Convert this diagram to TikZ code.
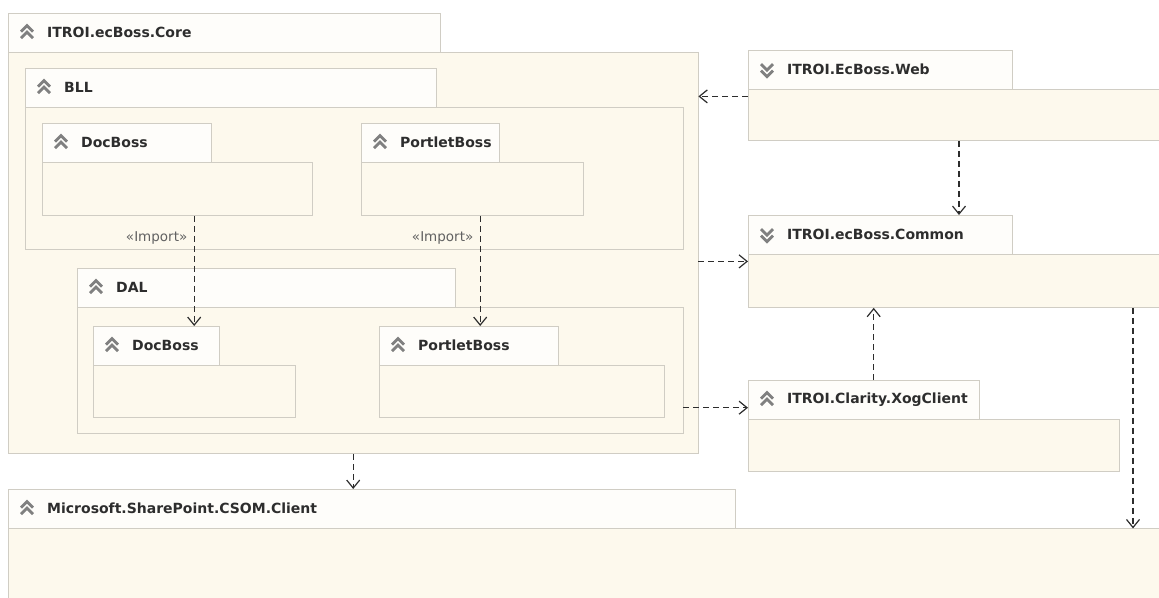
\documentclass[tikz,border=0pt]{standalone}
\usepackage{fontspec}
\setmainfont{DejaVu Sans}
\usetikzlibrary{arrows.meta}

\definecolor{edge}{RGB}{208,205,196}
\definecolor{tabfill}{RGB}{254,253,250}
\definecolor{bodyfill}{RGB}{253,249,237}
\definecolor{iconc}{RGB}{128,128,128}
\definecolor{ink}{RGB}{45,45,45}

\tikzset{
  pane/.style={draw=edge, fill=tabfill, anchor=north west, inner sep=0pt,
    minimum height=39pt, align=left, text=ink,
    font=\bfseries\fontsize{14}{16}\selectfont},
  body/.style={draw=edge, fill=bodyfill, anchor=north west, inner sep=0pt},
  dep/.style={draw=ink, line width=1.1pt, dash pattern=on 6pt off 4pt,
    -{Straight Barb[length=8pt,width=13pt,line width=1.2pt]}},
  imp/.style={left=3pt, text=ink!75, font=\fontsize{13.5}{15}\selectfont},
  pics/upicon/.style={code={
    \draw[iconc, line width=2.8pt] (-6,-1)--(0,-7)--(6,-1);
    \draw[iconc, line width=2.8pt] (-6,5.5)--(0,-0.5)--(6,5.5);}},
  pics/downicon/.style={code={
    \draw[iconc, line width=2.8pt] (-6,-5.5)--(0,0.5)--(6,-5.5);
    \draw[iconc, line width=2.8pt] (-6,1)--(0,7)--(6,1);}}
}

% name, x, y, tab width, body width, body height, label, icon
\newcommand{\pkg}[8]{%
  \node[pane, text width=#4pt] (#1T) at (#2,#3) {\hspace*{39pt}#7};
  \pic at ([xshift=19pt]#1T.west) {#8};
  \node[body, minimum width=#5pt, minimum height=#6pt] (#1) at (#1T.south west) {};
}

\begin{document}
\begin{tikzpicture}[x=1pt,y=-1pt]
  \useasboundingbox (0,0) rectangle (1159,597);
  \clip (0,0) rectangle (1159,597);

  \pkg{core}{8}{13}{432}{690}{401}{ITROI.ecBoss.Core}{upicon}
  \pkg{bll}{25}{68}{411}{658}{142}{BLL}{upicon}
  \pkg{bllDoc}{42}{123}{169}{270}{53}{DocBoss}{upicon}
  \pkg{bllPort}{361}{123}{138}{222}{53}{PortletBoss}{upicon}
  \pkg{dal}{77}{268}{378}{606}{126}{DAL}{upicon}
  \pkg{dalDoc}{93}{326}{126}{202}{52}{DocBoss}{upicon}
  \pkg{dalPort}{379}{326}{179}{285}{52}{PortletBoss}{upicon}

  \pkg{web}{748}{50}{264}{420}{51}{ITROI.EcBoss.Web}{downicon}
  \pkg{common}{748}{215}{264}{420}{53}{ITROI.ecBoss.Common}{downicon}
  \pkg{xog}{748}{380}{231}{371}{52}{ITROI.Clarity.XogClient}{upicon}
  \pkg{sp}{8}{489}{727}{1160}{72}{Microsoft.SharePoint.CSOM.Client}{upicon}

  % imports inside core
  \draw[dep] (bllDoc.south -| dalDoc) -- node[pos=.2, imp] {«Import»} (dalDocT.north -| dalDoc);
  \coordinate (p1) at ([xshift=8pt]bllPort.south);
  \draw[dep] (p1) -- node[pos=.2, imp] {«Import»} (p1 |- dalPortT.north);

  % dependencies
  \coordinate (w1) at ([yshift=-7pt]web.north west);
  \draw[dep] (w1) -- (w1 -| core.east);
  \coordinate (c1) at ([yshift=-7pt]common.north west);
  \draw[dep] (c1 -| core.east) -- (c1);
  \coordinate (x1) at ([yshift=-8pt]xogT.west);
  \draw[dep] (x1 -| dal.east) -- (x1);
  \coordinate (x2) at ([xshift=10pt]xogT.north);
  \draw[dep] (x2) -- (x2 |- common.south);
  \coordinate (w2) at ([xshift=211pt]web.south west);
  \draw[dep] (w2) -- (w2 |- commonT.north);
  \draw[dep] (core.south) -- (core.south |- spT.north);
  \coordinate (c2) at ([xshift=385pt]common.south west);
  \draw[dep] (c2) -- (c2 |- sp.north);
\end{tikzpicture}
\end{document}
